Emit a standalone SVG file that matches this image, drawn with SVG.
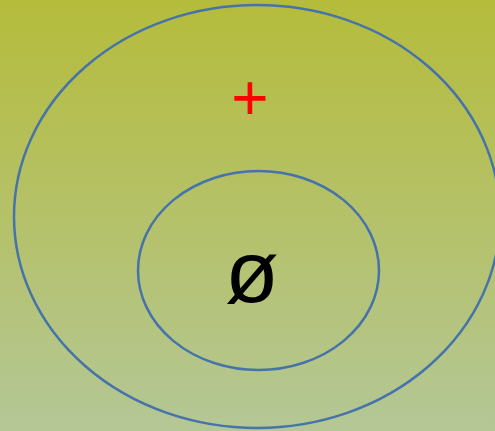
<svg xmlns="http://www.w3.org/2000/svg" width="495" height="431" viewBox="0 0 495 431">
<defs>
<linearGradient id="bg" x1="0" y1="0" x2="0" y2="1">
<stop offset="0" stop-color="#b5bc3b"/>
<stop offset="1" stop-color="#b4c796"/>
</linearGradient>
</defs>
<style>
.ring{fill:none;stroke:#4673a9;stroke-width:2.5}
</style>
<rect width="495" height="431" fill="url(#bg)"/>
<g id="outer"><ellipse class="ring" cx="257" cy="216.5" rx="243" ry="211.5"/>
<text x="250" y="120" font-family="Liberation Sans, Arial, sans-serif" font-size="64" fill="#ff0000" text-anchor="middle">+</text></g>
<g id="inner"><ellipse class="ring" cx="258.5" cy="270.5" rx="120.5" ry="99.5"/>
<text x="252" y="302" font-family="Liberation Sans, Arial, sans-serif" font-size="88" fill="#000000" text-anchor="middle">ø</text></g>
</svg>
